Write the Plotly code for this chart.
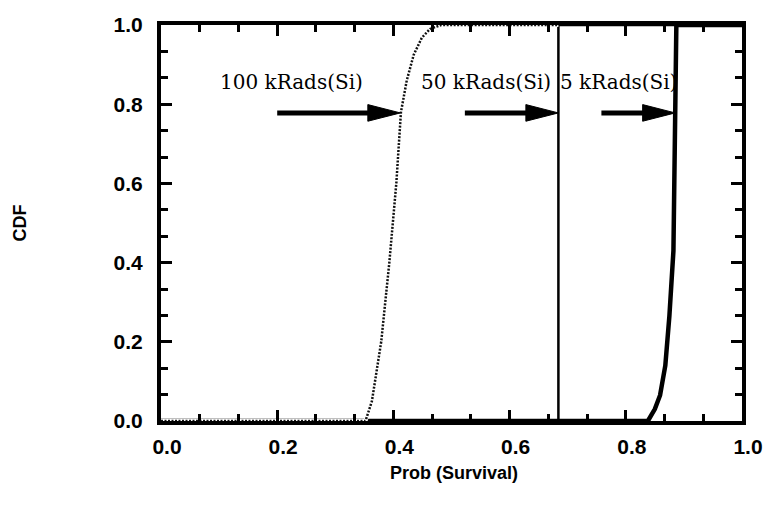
import plotly.graph_objects as go

# ---- data ----
X_100 = [0.0, 0.352, 0.363, 0.379, 0.393, 0.405, 0.413, 0.423, 0.435, 0.449, 0.463, 0.482, 0.684]
CDF_100 = [0.0, 0.0, 0.05, 0.20, 0.40, 0.60, 0.78, 0.86, 0.925, 0.968, 0.99, 1.0, 1.0]

X_50 = [0.0, 0.684, 0.684, 1.0]
CDF_50 = [0.0, 0.0, 1.0, 1.0]

X_5 = [0.0, 0.838, 0.850, 0.859, 0.868, 0.875, 0.882, 0.885, 0.887, 1.0]
CDF_5 = [0.0, 0.0, 0.03, 0.065, 0.14, 0.265, 0.43, 0.80, 1.0, 1.0]

SERIES_LABELS = ["100 kRads(Si)", "50 kRads(Si)", "5 kRads(Si)"]
LABEL_X = [0.225, 0.560, 0.787]
LABEL_Y = 0.855
ARROW_TAIL_X = [0.200, 0.523, 0.758]
ARROW_TIP_X = [0.412, 0.684, 0.885]
ARROW_Y = 0.778

TICK_VALS = [0.0, 0.2, 0.4, 0.6, 0.8, 1.0]
TICK_TEXT = ["0.0", "0.2", "0.4", "0.6", "0.8", "1.0"]

fig = go.Figure()

# solid curves first
fig.add_trace(go.Scatter(x=X_5, y=CDF_5, mode="lines",
                         line=dict(color="black", width=4.5), name=SERIES_LABELS[2]))
fig.add_trace(go.Scatter(x=X_50, y=CDF_50, mode="lines",
                         line=dict(color="black", width=2.5), name=SERIES_LABELS[1]))
# dotted curve with white underlay
fig.add_trace(go.Scatter(x=X_100, y=CDF_100, mode="lines",
                         line=dict(color="white", width=4), hoverinfo="skip", showlegend=False))
fig.add_trace(go.Scatter(x=X_100, y=CDF_100, mode="lines",
                         line=dict(color="#111111", width=2.5, dash="2px,1.5px"), name=SERIES_LABELS[0]))

tickfont = dict(family="Liberation Sans, Arial, sans-serif", size=21, color="black", weight="bold")
axis_common = dict(
    range=[0, 1], showgrid=False, zeroline=False,
    showline=True, linewidth=4, linecolor="black", mirror="ticks",
    ticks="inside", ticklen=11, tickwidth=3, tickcolor="black",
    tickvals=TICK_VALS, ticktext=TICK_TEXT, tickfont=tickfont,
    minor=dict(ticks="inside", ticklen=7, tickwidth=3, tickcolor="black", dtick=0.2 / 3, showgrid=False),
    fixedrange=True,
)
fig.update_xaxes(**axis_common, ticklabelstandoff=4, ticklabelshift=6)
fig.update_yaxes(**axis_common, ticklabelstandoff=10)

annotations = []
for lbl, lx in zip(SERIES_LABELS, LABEL_X):
    annotations.append(dict(x=lx, y=LABEL_Y, xref="x", yref="y", text=lbl, showarrow=False,
                            xanchor="center", yanchor="middle",
                            font=dict(family="DejaVu Serif, serif", size=20, color="black")))
annotations.append(dict(x=-0.242, y=0.5, xref="paper", yref="paper", text="CDF", textangle=-90,
                        showarrow=False, xanchor="center", yanchor="middle",
                        font=dict(family="Liberation Sans, Arial, sans-serif", size=18, color="black", weight="bold")))
annotations.append(dict(x=0.505, y=-0.132, xref="paper", yref="paper", text="Prob (Survival)",
                        showarrow=False, xanchor="center", yanchor="middle",
                        font=dict(family="Liberation Sans, Arial, sans-serif", size=18, color="black", weight="bold")))

shapes = []
HEAD_LEN = 0.056
HEAD_HALF = 0.021
for tx, hx in zip(ARROW_TAIL_X, ARROW_TIP_X):
    shapes.append(dict(type="line", xref="x", yref="y", x0=tx, y0=ARROW_Y, x1=hx - HEAD_LEN + 0.005, y1=ARROW_Y,
                       line=dict(color="black", width=5)))
    shapes.append(dict(type="path", xref="x", yref="y",
                       path=f"M {hx},{ARROW_Y} L {hx - HEAD_LEN},{ARROW_Y + HEAD_HALF} L {hx - HEAD_LEN},{ARROW_Y - HEAD_HALF} Z",
                       fillcolor="black", line=dict(color="black", width=1)))

fig.update_layout(
    width=775, height=516,
    margin=dict(l=161, r=31, t=25, b=95),
    paper_bgcolor="white", plot_bgcolor="white",
    showlegend=False,
    annotations=annotations, shapes=shapes,
)

fig.write_html("out.html", config={"displayModeBar": False},
               post_script="document.body.style.margin='0';document.body.style.overflow='hidden';")
